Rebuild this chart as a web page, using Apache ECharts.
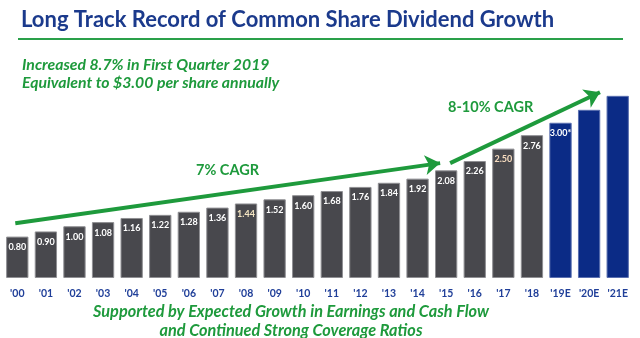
<!DOCTYPE html>
<html>
<head>
<meta charset="utf-8">
<script src="https://cdn.jsdelivr.net/npm/echarts@6/dist/echarts.min.js"></script>
<style>
html, body { margin: 0; padding: 0; background: #fff; }
#chart { width: 640px; height: 338px; }
</style>
</head>
<body>
<div id="chart"></div>
<script>
// dividend per share, actual + estimate
var years = ["'00","'01","'02","'03","'04","'05","'06","'07","'08","'09","'10","'11","'12","'13","'14","'15","'16","'17","'18","'19E","'20E","'21E"];
var dividends = [0.80, 0.90, 1.00, 1.08, 1.16, 1.22, 1.28, 1.36, 1.44, 1.52, 1.60, 1.68, 1.76, 1.84, 1.92, 2.08, 2.26, 2.50, 2.76, 3.00, 3.25, 3.52];
var valueLabels = ['0.80','0.90','1.00','1.08','1.16','1.22','1.28','1.36','1.44','1.52','1.60','1.68','1.76','1.84','1.92','2.08','2.26','2.50','2.76','3.00*','',''];
var estimateFrom = 19;
// trend arrows: [x index, value] start -> end
var arrow7 = [[-0.07, 1.06], [14.79, 2.22]];
var arrow810 = [[15.14, 2.22], [20.38, 3.59]];

var GREEN = '#1e9a3c';
var chart = echarts.init(document.getElementById('chart'));

var barData = dividends.map(function (v, i) {
    var est = i >= estimateFrom;
    var lblColor = '#ffffff';
    if (i == 8) lblColor = '#f6e7c4';
    if (i == 17) lblColor = '#f7dcc0';
    return {
        value: v,
        itemStyle: {
            color: est ? '#0b2b86' : '#48484d',
            borderColor: est ? '#5a6fb0' : '#8f8f93',
            borderWidth: 1
        },
        label: { color: lblColor }
    };
});

var option = {
    animation: false,
    title: [{
        text: 'Long Track Record of Common Share Dividend Growth',
        left: 16, top: 4,
        textStyle: { fontFamily: 'Lato', fontSize: 22, fontWeight: 'bold', color: '#1b3a8c' }
    }, {
        text: 'Increased 8.7% in First Quarter 2019\nEquivalent to $3.00 per share annually',
        left: 17, top: 51,
        textStyle: { fontFamily: 'Lato', fontSize: 15.8, fontWeight: 'bold', fontStyle: 'italic', color: GREEN, lineHeight: 18 }
    }],
    graphic: [{
        type: 'line',
        shape: { x1: 18, y1: 39, x2: 623, y2: 39 },
        style: { stroke: '#2aa04a', lineWidth: 2 }
    }, {
        type: 'text', x: 291, y: 302,
        style: {
            text: 'Supported by Expected Growth in Earnings and Cash Flow\nand Continued Strong Coverage Ratios',
            textAlign: 'center', fontFamily: 'Lato', fontSize: 16.3, fontWeight: 'bold', fontStyle: 'italic',
            fill: GREEN, lineHeight: 19
        }
    }, {
        type: 'text', left: 196, top: 163,
        style: { text: '7% CAGR', fontFamily: 'Lato', fontSize: 14.5, fontWeight: 'bold', fill: GREEN }
    }, {
        type: 'text', left: 448, top: 100,
        style: { text: '8-10% CAGR', fontFamily: 'Lato', fontSize: 14.5, fontWeight: 'bold', fill: GREEN }
    }],
    grid: { left: 3, right: 8, top: 71, bottom: 60 },
    xAxis: [{
        type: 'category',
        data: years,
        axisLine: { show: false },
        axisTick: { show: false },
        axisLabel: { interval: 0, margin: 10, fontFamily: 'Lato', fontSize: 10.5, fontWeight: 'bold', color: '#203f99' }
    }, {
        type: 'value', min: -0.5, max: 21.5, show: false
    }],
    yAxis: {
        type: 'value', min: 0, max: 4, show: false
    },
    series: [{
        type: 'bar',
        data: barData,
        barWidth: '78%',
        label: {
            show: true,
            position: 'insideTop',
            distance: 6,
            fontFamily: 'Lato',
            fontSize: 9,
            fontWeight: 'bold',
            formatter: function (p) { return valueLabels[p.dataIndex]; }
        }
    }, {
        type: 'lines',
        coordinateSystem: 'cartesian2d',
        xAxisIndex: 1,
        yAxisIndex: 0,
        symbol: ['none', 'arrow'],
        symbolSize: 15,
        lineStyle: { color: GREEN, width: 4, opacity: 1, curveness: 0 },
        data: [{ coords: arrow7 }, { coords: arrow810 }],
        z: 5
    }]
};
chart.setOption(option);
</script>
</body>
</html>
